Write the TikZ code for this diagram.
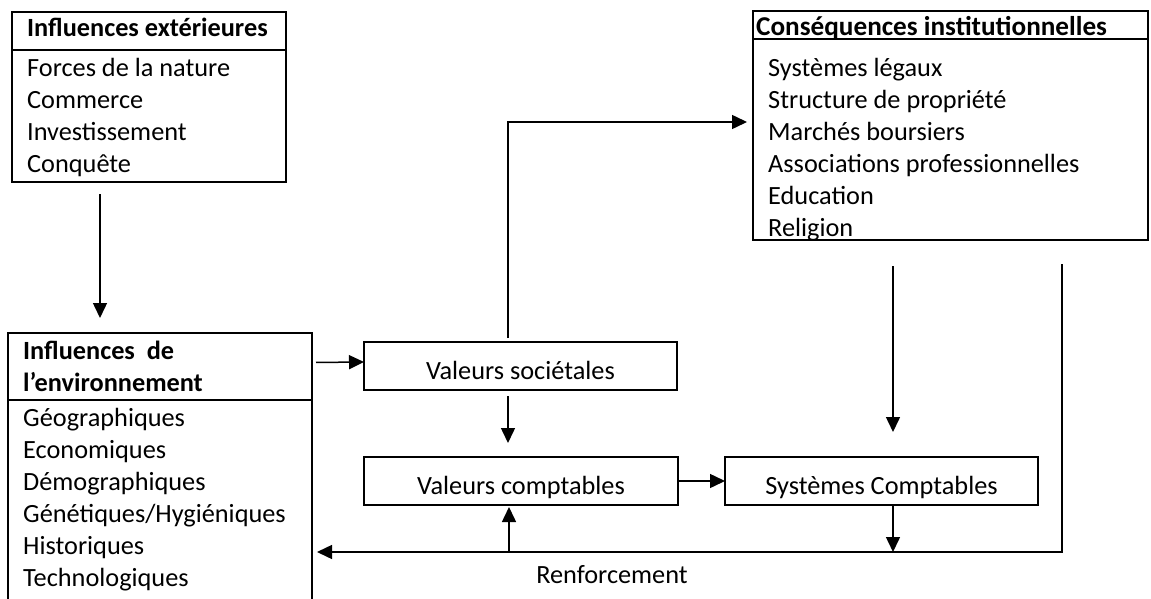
\documentclass[tikz,border=0pt]{standalone}
\usepackage{fontspec}
\setmainfont{Carlito}
\usetikzlibrary{arrows.meta,positioning}

\begin{document}
\begin{tikzpicture}[x=1pt,y=-1pt,
  frame/.style={draw, line width=1.6pt, outer sep=0pt, inner sep=0pt, anchor=north west},
  valbox/.style={frame, minimum height=48pt, font=\fontsize{26.3}{32}\selectfont, text height=26pt, text depth=0pt},
  txt/.style={inner sep=0pt, anchor=base west, font=\fontsize{26.3}{32}\selectfont},
  hdr/.style={txt, font=\fontsize{26.3}{32}\selectfont\bfseries},
  lst/.style={txt, text width=380pt, align=flush left},
  arr/.style={line width=1.5pt, -{Triangle[length=15pt,width=14pt]}}]

\useasboundingbox (0,0) rectangle (1151,599);

% cadres
\node[frame, minimum width=274pt, minimum height=38pt] (extHead) at (12,12) {};
\node[frame, minimum width=274pt, minimum height=132pt, below=0pt of extHead] (extBody) {};
\node[frame, minimum width=304pt, minimum height=67pt] (envHead) at (8,333) {};
\node[frame, minimum width=304pt, minimum height=200pt, below=0pt of envHead] (envBody) {};
\node[frame, minimum width=395pt, minimum height=28pt] (instHead) at (753,11) {};
\node[frame, minimum width=395pt, minimum height=201pt, below=0pt of instHead] (instBody) {};

\node[valbox, minimum width=313pt] (socBox) at (364,342) {Valeurs sociétales};
\node[valbox, minimum width=314pt] (cptBox) at (364,457) {Valeurs comptables};
\node[valbox, minimum width=313pt] (sysBox) at (725,457) {Systèmes Comptables};

% textes des cadres
\node[hdr] (extTitle) at (27,37) {Influences extérieures};
\node[lst] (extList) at (27,77) {Forces de la nature\\Commerce\\Investissement\\Conquête};
\node[hdr, text width=290pt, align=flush left] (envTitle) at (23,359) {Influences\ \ de\\l’environnement};
\node[lst] (envList) at (23,426) {Géographiques\\Economiques\\Démographiques\\Génétiques/Hygiéniques\\Historiques\\Technologiques};
\node[hdr, font=\fontsize{27.2}{32}\selectfont\bfseries] (instTitle) at (756,36) {Conséquences institutionnelles};
\node[lst] (instList) at (768,77) {Systèmes légaux\\Structure de propriété\\Marchés boursiers\\Associations professionnelles\\Education\\Religion};

\node[txt, anchor=base] (reinfLabel) at (612,583) {Renforcement};

% fleches
\coordinate (fbDrop) at (893,552);
\coordinate (fbRise) at (509,552);

\draw[arr, shorten <=12pt, shorten >=15pt] ([xshift=88pt]extBody.south west) -- ([xshift=92pt]envHead.north west);
\draw[arr, shorten <=4pt] ([yshift=4pt]envHead.east) -- ([yshift=4pt]socBox.west);
\draw[arr, shorten <=4pt, shorten >=6pt] ([xshift=144pt]socBox.north west) |- ([yshift=17.5pt]instBody.west);
\draw[arr, shorten <=6pt, shorten >=14pt] ([xshift=144pt]socBox.south west) -- ([xshift=144pt]cptBox.north west);
\draw[arr] (cptBox.east) -- (sysBox.west);
\draw[arr, shorten <=26pt, shorten >=25pt] ([xshift=140pt]instBody.south west) -- ([xshift=168pt]sysBox.north west);
\draw[arr] (sysBox.south -| fbDrop) -- (fbDrop);
\draw[arr, shorten >=2pt] (fbRise) -- (cptBox.south -| fbRise);

% boucle de renforcement
\draw[arr, shorten <=24pt, shorten >=5pt] ([xshift=309pt]instBody.south west) |- (envBody.east |- fbDrop);

\end{tikzpicture}
\end{document}
